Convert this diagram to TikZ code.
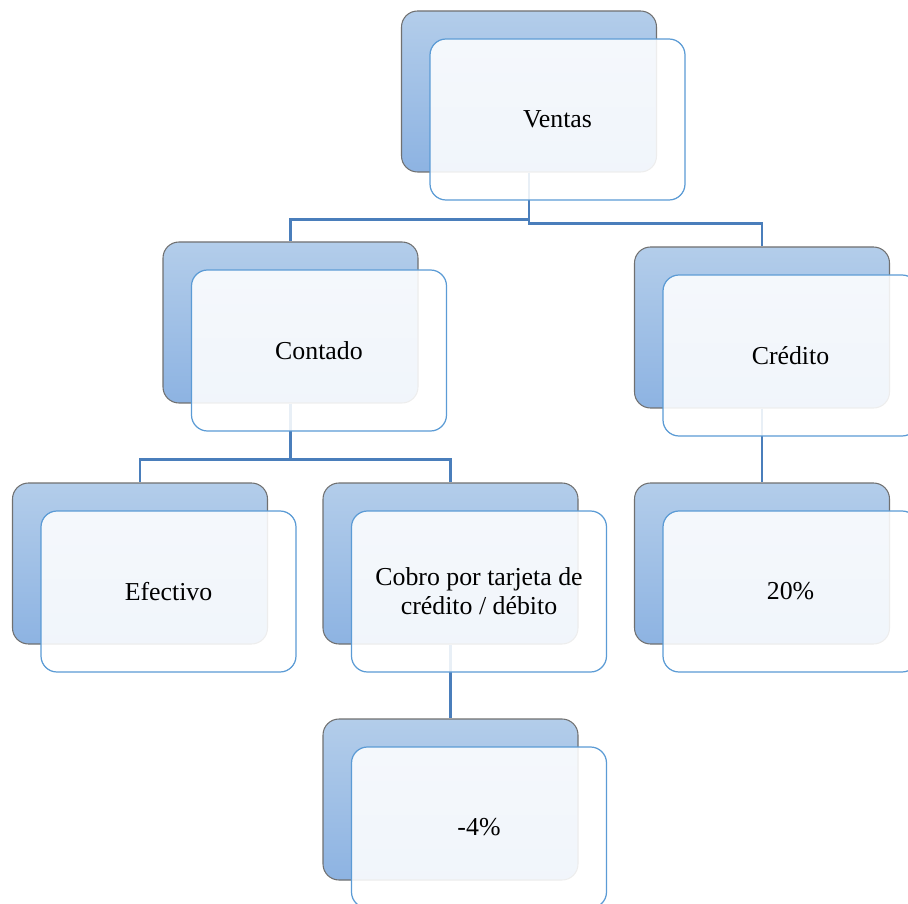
\documentclass[tikz,border=0pt]{standalone}
\usepackage{fontspec}
\setmainfont{Liberation Serif}
\usetikzlibrary{positioning}

\definecolor{boxtop}{HTML}{B3CDEA}
\definecolor{boxbottom}{HTML}{8DB3E2}
\definecolor{boxedge}{HTML}{707070}
\definecolor{frontedge}{HTML}{5B9BD5}
\definecolor{linkblue}{HTML}{4A7EBB}

\begin{document}
\begin{tikzpicture}
				% Stili comuni per le schede
				\tikzset{
					back/.style={
						draw=boxedge,
						line width=0.6pt,
						top color=boxtop,
						bottom color=boxbottom,
						rounded corners=0.32cm,
						minimum width=5.1cm,
						minimum height=3.22cm,
						inner sep=0pt
					},
					front/.style={
						draw=frontedge,
						line width=0.7pt,
						fill=white,
						fill opacity=0.88,
						text opacity=1,
						rounded corners=0.32cm,
						minimum width=5.1cm,
						minimum height=3.22cm,
						inner sep=0pt,
						align=center,
						font=\fontsize{14.7}{16.5}\selectfont
					},
					link/.style={
						draw=linkblue,
						line width=1.3pt
					}
				}
				
				\clip (0,0) rectangle (18.16,-18.08);
				
				% Schede di fondo
				\node[back] (ventas) at (10.58, -1.83) {};
				\node[back] (contado) at (5.81, -6.45) {};
				\node[back] (credito) at (15.24, -6.55) {};
				\node[back] (efectivo) at (2.80, -11.27) {};
				\node[back] (cobro) at (9.01, -11.27) {};
				\node[back] (veinte) at (15.24, -11.27) {};
				\node[back] (menos) at (9.01, -15.99) {};
				
				% Collegamenti
				\draw[link] (ventas.south) -- ++(0, -0.94) -| (contado.north);
				\draw[link] (ventas.south) -- ++(0, -1.02) -| (credito.north);
				\draw[link] (contado.south) -- ++(0, -1.12) -| (efectivo.north);
				\draw[link] (contado.south) -- ++(0, -1.12) -| (cobro.north);
				\draw[link] (credito.south) -- (veinte.north);
				\draw[link] (cobro.south) -- (menos.north);
				
				% Schede in primo piano
				\node[front] (ventasF) at ([shift={(0.57, -0.56)}]ventas.center) {Ventas};
				\node[front] (contadoF) at ([shift={(0.57, -0.56)}]contado.center) {Contado};
				\node[front] (creditoF) at ([shift={(0.57, -0.56)}]credito.center) {Crédito};
				\node[front] (efectivoF) at ([shift={(0.57, -0.56)}]efectivo.center) {Efectivo};
				\node[front] (cobroF) at ([shift={(0.57, -0.56)}]cobro.center) {Cobro por tarjeta de\\crédito / débito};
				\node[front] (veinteF) at ([shift={(0.57, -0.56)}]veinte.center) {20\%};
				\node[front] (menosF) at ([shift={(0.57, -0.56)}]menos.center) {-4\%};
			\end{tikzpicture}
\end{document}
